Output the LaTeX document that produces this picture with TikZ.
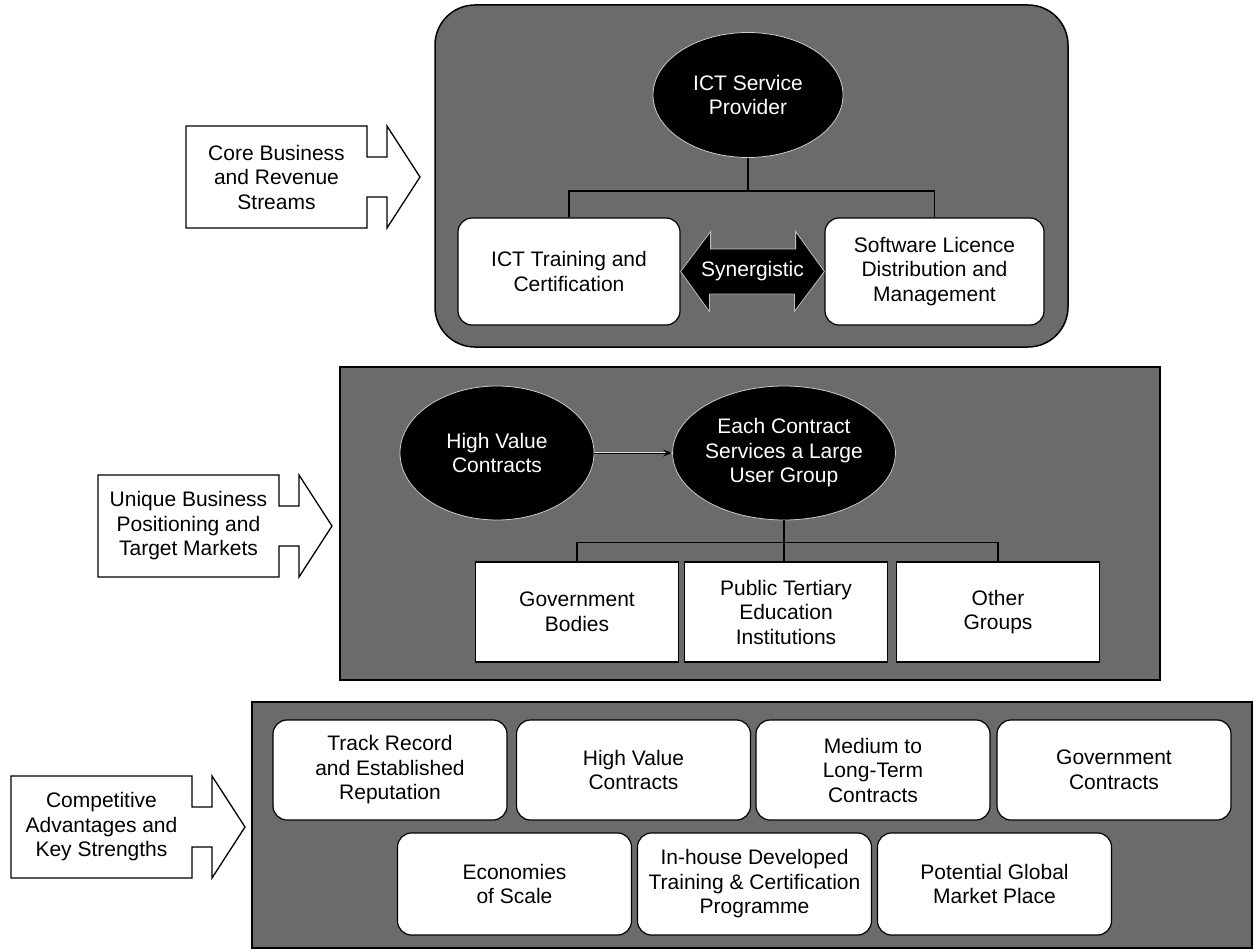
\documentclass[tikz,border=0pt]{standalone}
\usepackage{fontspec}
\setmainfont{Liberation Sans}
\usetikzlibrary{calc,arrows.meta,shapes.geometric}

\definecolor{panelfill}{gray}{0.42}
\newcommand\diagfont{\fontsize{21}{24.5}\selectfont}

\tikzset{
  panel/.style={fill=panelfill, draw=black, line width=1.5pt},
  oval/.style={ellipse, fill=black, draw=white!80!black, line width=0.8pt,
    text=white, align=center, inner sep=0pt, font=\diagfont},
  plainbox/.style={rectangle, fill=white, draw=black, line width=1.2pt,
    align=center, inner sep=0pt, font=\diagfont},
  roundbox/.style={plainbox, rounded corners=14pt},
  tree/.style={draw=black, line width=1.2pt},
  flow/.style={draw=black, line width=1pt, -{Stealth[length=9pt,width=7pt]},
    preaction={draw=white!85!black, line width=2.6pt, -}},
  callout/.style={draw=black, line width=1.3pt, fill=white, line join=miter},
  calltext/.style={align=center, inner sep=0pt, font=\diagfont},
}

% right-pointing callout: #1 name, #2 left edge, #3 centre line, #4 label
\newcommand\sidearrow[4]{%
  \draw[callout] (#2,#3-51) -- ++(181,0) -- ++(0,31) -- ++(20,0) -- ++(0,-31)
    -- ++(33,51) -- ++(-33,51) -- ++(0,-31) -- ++(-20,0) -- ++(0,31)
    -- ++(-181,0) -- cycle;
  \node[calltext] (#1) at (#2+90.5,#3) {#4};
}

\begin{document}
\begin{tikzpicture}[x=1pt, y=-1pt]
\useasboundingbox (0,0) rectangle (1254,950);

% ---------- core business ----------
\draw[panel, rounded corners=40pt] (435,5) rectangle (1068,347);
\node[oval, minimum width=190pt, minimum height=125pt] (isp) at (748,95)
  {ICT Service\\Provider};
\node[roundbox, minimum width=222pt, minimum height=107pt] (train) at (569,271.5)
  {ICT Training and\\Certification};
\node[roundbox, minimum width=219pt, minimum height=107pt] (soft) at (934.5,271.5)
  {Software Licence\\Distribution and\\Management};
\draw[tree] (isp.south) -- ++(0,33) -| (train.north);
\draw[tree] (isp.south) -- ++(0,33) -| (soft.north);
\filldraw[fill=black, draw=white!75!black, line width=0.8pt]
  (train.east) -- ++(30,-40) -- ++(0,17.5) -- ++(85,0) -- ++(0,-17.5)
  -- (soft.west) -- ++(-30,40) -- ++(0,-17.5) -- ++(-85,0) -- ++(0,17.5) -- cycle;
\node[text=white, font=\diagfont, inner sep=0pt] (syn)
  at ($(train.east)!0.5!(soft.west)$) {Synergistic};

\sidearrow{core}{186}{177}{Core Business\\and Revenue\\Streams}

% ---------- positioning and markets ----------
\draw[panel] (340,367) rectangle (1160,680);
\node[oval, minimum width=194pt, minimum height=134pt] (hv) at (497,453)
  {High Value\\Contracts};
\node[oval, minimum width=194pt, minimum height=134pt] (ec) at (784,453)
  {Each Contract\\Services a Large\\User Group};
\draw[flow] (hv.east) -- (ec.west);
\node[plainbox, minimum width=203pt, minimum height=100pt] (gov) at (577,612)
  {Government\\Bodies};
\node[plainbox, minimum width=203pt, minimum height=100pt] (pub) at (786,612)
  {Public Tertiary\\Education\\Institutions};
\node[plainbox, minimum width=203pt, minimum height=100pt] (oth) at (998,612)
  {Other\\Groups};
\draw[tree] (ec.south) -- ++(0,22) -| (gov.north);
\draw[tree] (ec.south) -- (ec.south |- pub.north);
\draw[tree] (ec.south) -- ++(0,22) -| (oth.north);

\sidearrow{pos}{98}{526}{Unique Business\\Positioning and\\Target Markets}

% ---------- strengths ----------
\draw[panel] (252,702) rectangle (1252,948);
\tikzset{strength/.style={roundbox, minimum width=234pt, minimum height=100pt}}
\node[strength] (track) at (390,770)    {Track Record\\and Established\\Reputation};
\node[strength] (hval)  at (633.5,770)  {High Value\\Contracts};
\node[strength] (term)  at (873,770)    {Medium to\\Long-Term\\Contracts};
\node[strength] (govc)  at (1114,770)   {Government\\Contracts};
\node[strength, minimum height=102pt] (scale) at (514.5,884) {Economies\\of Scale};
\node[strength, minimum height=102pt] (inh)   at (754.5,884)
  {In-house Developed\\Training \& Certification\\Programme};
\node[strength, minimum height=102pt] (glob)  at (994.5,884)
  {Potential Global\\Market Place};

\sidearrow{adv}{11}{827}{Competitive\\Advantages and\\Key Strengths}
\end{tikzpicture}
\end{document}
